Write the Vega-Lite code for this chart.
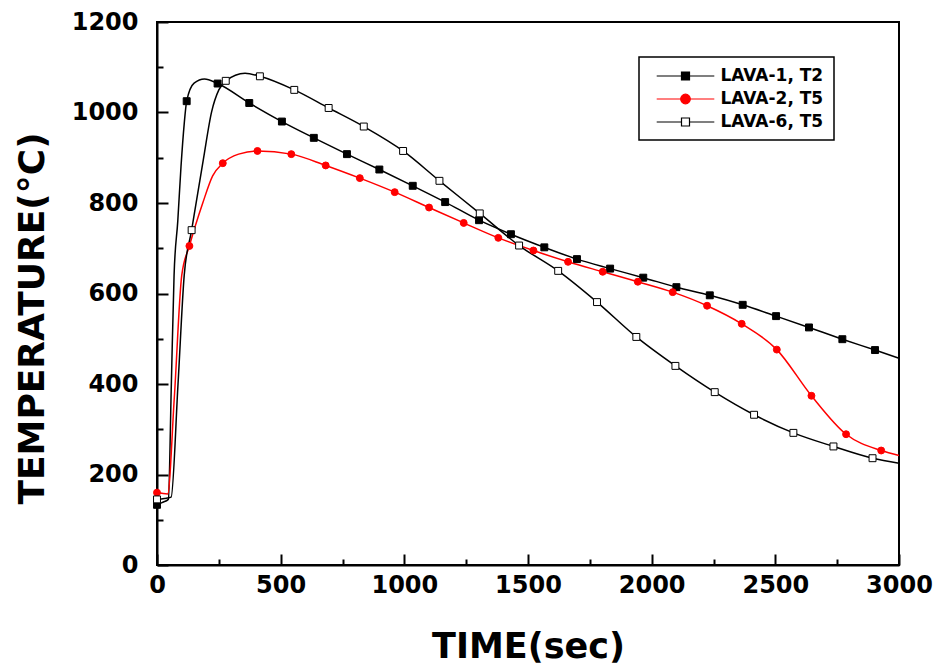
{
  "$schema": "https://vega.github.io/schema/vega-lite/v6.json",
  "width": 742,
  "height": 543,
  "autosize": {"type": "none"},
  "padding": {"left": 157, "top": 22, "right": 40, "bottom": 103},
  "background": "white",
  "config": {
    "view": {"stroke": "black", "strokeWidth": 2},
    "font": "DejaVu Sans",
    "axis": {
      "grid": false,
      "domainColor": "black",
      "domainWidth": 2,
      "tickColor": "black",
      "tickWidth": 2,
      "labelFont": "DejaVu Sans",
      "labelFontWeight": "bold",
      "labelFontSize": 24,
      "labelColor": "black",
      "labelFlush": false,
      "labelOverlap": false,
      "titleFont": "DejaVu Sans",
      "titleFontWeight": "bold",
      "titleColor": "black"
    },
    "legend": {"strokeWidth": 1.5}
  },
  "resolve": {"axis": {"x": "independent", "y": "independent"}},
  "data": {
    "values": [
      {"series": "LAVA-1, T2", "time": 0, "temp": 133, "marker": 1},
      {"series": "LAVA-1, T2", "time": 20, "temp": 138, "marker": 0},
      {"series": "LAVA-1, T2", "time": 46, "temp": 145, "marker": 0},
      {"series": "LAVA-1, T2", "time": 58, "temp": 400, "marker": 0},
      {"series": "LAVA-1, T2", "time": 69, "temp": 640, "marker": 0},
      {"series": "LAVA-1, T2", "time": 84, "temp": 760, "marker": 0},
      {"series": "LAVA-1, T2", "time": 97, "temp": 880, "marker": 0},
      {"series": "LAVA-1, T2", "time": 110, "temp": 975, "marker": 0},
      {"series": "LAVA-1, T2", "time": 120, "temp": 1025, "marker": 1},
      {"series": "LAVA-1, T2", "time": 150, "temp": 1065, "marker": 0},
      {"series": "LAVA-1, T2", "time": 192, "temp": 1074, "marker": 0},
      {"series": "LAVA-1, T2", "time": 245, "temp": 1064, "marker": 1},
      {"series": "LAVA-1, T2", "time": 373, "temp": 1021, "marker": 1},
      {"series": "LAVA-1, T2", "time": 505, "temp": 980, "marker": 1},
      {"series": "LAVA-1, T2", "time": 634, "temp": 944, "marker": 1},
      {"series": "LAVA-1, T2", "time": 768, "temp": 908, "marker": 1},
      {"series": "LAVA-1, T2", "time": 899, "temp": 874, "marker": 1},
      {"series": "LAVA-1, T2", "time": 1034, "temp": 838, "marker": 1},
      {"series": "LAVA-1, T2", "time": 1165, "temp": 802, "marker": 1},
      {"series": "LAVA-1, T2", "time": 1302, "temp": 762, "marker": 1},
      {"series": "LAVA-1, T2", "time": 1431, "temp": 731, "marker": 1},
      {"series": "LAVA-1, T2", "time": 1566, "temp": 702, "marker": 1},
      {"series": "LAVA-1, T2", "time": 1698, "temp": 676, "marker": 1},
      {"series": "LAVA-1, T2", "time": 1832, "temp": 655, "marker": 1},
      {"series": "LAVA-1, T2", "time": 1966, "temp": 635, "marker": 1},
      {"series": "LAVA-1, T2", "time": 2100, "temp": 614, "marker": 1},
      {"series": "LAVA-1, T2", "time": 2235, "temp": 596, "marker": 1},
      {"series": "LAVA-1, T2", "time": 2368, "temp": 575, "marker": 1},
      {"series": "LAVA-1, T2", "time": 2503, "temp": 550, "marker": 1},
      {"series": "LAVA-1, T2", "time": 2636, "temp": 525, "marker": 1},
      {"series": "LAVA-1, T2", "time": 2771, "temp": 499, "marker": 1},
      {"series": "LAVA-1, T2", "time": 2903, "temp": 475, "marker": 1},
      {"series": "LAVA-1, T2", "time": 3000, "temp": 457, "marker": 0},

      {"series": "LAVA-2, T5", "time": 0, "temp": 160, "marker": 1},
      {"series": "LAVA-2, T5", "time": 43, "temp": 157, "marker": 0},
      {"series": "LAVA-2, T5", "time": 70, "temp": 370, "marker": 0},
      {"series": "LAVA-2, T5", "time": 100, "temp": 640, "marker": 0},
      {"series": "LAVA-2, T5", "time": 131, "temp": 705, "marker": 1},
      {"series": "LAVA-2, T5", "time": 185, "temp": 800, "marker": 0},
      {"series": "LAVA-2, T5", "time": 225, "temp": 860, "marker": 0},
      {"series": "LAVA-2, T5", "time": 266, "temp": 888, "marker": 1},
      {"series": "LAVA-2, T5", "time": 330, "temp": 908, "marker": 0},
      {"series": "LAVA-2, T5", "time": 406, "temp": 915, "marker": 1},
      {"series": "LAVA-2, T5", "time": 543, "temp": 908, "marker": 1},
      {"series": "LAVA-2, T5", "time": 682, "temp": 883, "marker": 1},
      {"series": "LAVA-2, T5", "time": 820, "temp": 855, "marker": 1},
      {"series": "LAVA-2, T5", "time": 961, "temp": 824, "marker": 1},
      {"series": "LAVA-2, T5", "time": 1100, "temp": 790, "marker": 1},
      {"series": "LAVA-2, T5", "time": 1240, "temp": 756, "marker": 1},
      {"series": "LAVA-2, T5", "time": 1380, "temp": 723, "marker": 1},
      {"series": "LAVA-2, T5", "time": 1522, "temp": 695, "marker": 1},
      {"series": "LAVA-2, T5", "time": 1662, "temp": 670, "marker": 1},
      {"series": "LAVA-2, T5", "time": 1802, "temp": 648, "marker": 1},
      {"series": "LAVA-2, T5", "time": 1944, "temp": 626, "marker": 1},
      {"series": "LAVA-2, T5", "time": 2085, "temp": 603, "marker": 1},
      {"series": "LAVA-2, T5", "time": 2224, "temp": 573, "marker": 1},
      {"series": "LAVA-2, T5", "time": 2364, "temp": 533, "marker": 1},
      {"series": "LAVA-2, T5", "time": 2506, "temp": 476, "marker": 1},
      {"series": "LAVA-2, T5", "time": 2646, "temp": 374, "marker": 1},
      {"series": "LAVA-2, T5", "time": 2786, "temp": 289, "marker": 1},
      {"series": "LAVA-2, T5", "time": 2928, "temp": 253, "marker": 1},
      {"series": "LAVA-2, T5", "time": 3000, "temp": 242, "marker": 0},

      {"series": "LAVA-6, T5", "time": 0, "temp": 145, "marker": 1},
      {"series": "LAVA-6, T5", "time": 30, "temp": 147, "marker": 0},
      {"series": "LAVA-6, T5", "time": 57, "temp": 150, "marker": 0},
      {"series": "LAVA-6, T5", "time": 85, "temp": 400, "marker": 0},
      {"series": "LAVA-6, T5", "time": 110, "temp": 640, "marker": 0},
      {"series": "LAVA-6, T5", "time": 140, "temp": 740, "marker": 1},
      {"series": "LAVA-6, T5", "time": 187, "temp": 895, "marker": 0},
      {"series": "LAVA-6, T5", "time": 221, "temp": 1002, "marker": 0},
      {"series": "LAVA-6, T5", "time": 250, "temp": 1050, "marker": 0},
      {"series": "LAVA-6, T5", "time": 278, "temp": 1070, "marker": 1},
      {"series": "LAVA-6, T5", "time": 356, "temp": 1087, "marker": 0},
      {"series": "LAVA-6, T5", "time": 416, "temp": 1080, "marker": 1},
      {"series": "LAVA-6, T5", "time": 555, "temp": 1050, "marker": 1},
      {"series": "LAVA-6, T5", "time": 694, "temp": 1010, "marker": 1},
      {"series": "LAVA-6, T5", "time": 836, "temp": 969, "marker": 1},
      {"series": "LAVA-6, T5", "time": 995, "temp": 915, "marker": 1},
      {"series": "LAVA-6, T5", "time": 1142, "temp": 849, "marker": 1},
      {"series": "LAVA-6, T5", "time": 1305, "temp": 777, "marker": 1},
      {"series": "LAVA-6, T5", "time": 1464, "temp": 706, "marker": 1},
      {"series": "LAVA-6, T5", "time": 1622, "temp": 650, "marker": 1},
      {"series": "LAVA-6, T5", "time": 1779, "temp": 581, "marker": 1},
      {"series": "LAVA-6, T5", "time": 1938, "temp": 504, "marker": 1},
      {"series": "LAVA-6, T5", "time": 2096, "temp": 440, "marker": 1},
      {"series": "LAVA-6, T5", "time": 2255, "temp": 382, "marker": 1},
      {"series": "LAVA-6, T5", "time": 2414, "temp": 332, "marker": 1},
      {"series": "LAVA-6, T5", "time": 2573, "temp": 292, "marker": 1},
      {"series": "LAVA-6, T5", "time": 2735, "temp": 262, "marker": 1},
      {"series": "LAVA-6, T5", "time": 2893, "temp": 236, "marker": 1},
      {"series": "LAVA-6, T5", "time": 3000, "temp": 225, "marker": 0}
    ]
  },
  "layer": [
    {
      "mark": {"type": "line", "interpolate": "monotone", "strokeWidth": 1.5},
      "encoding": {
        "x": {
          "field": "time",
          "type": "quantitative",
          "scale": {"domain": [0, 3000], "nice": false},
          "axis": {
            "orient": "bottom",
            "title": "TIME(sec)",
            "titleFontSize": 35,
            "titleY": 92,
            "titleBaseline": "alphabetic",
            "format": "d",
            "values": [0, 500, 1000, 1500, 2000, 2500, 3000],
            "tickSize": -11,
            "labelPadding": 19
          }
        },
        "y": {
          "field": "temp",
          "type": "quantitative",
          "scale": {"domain": [0, 1200], "nice": false},
          "axis": {
            "orient": "left",
            "title": "TEMPERATURE(°C)",
            "titleFontSize": 36,
            "titleX": -114,
            "titleY": 296,
            "titleAngle": 270,
            "titleAlign": "center",
            "titleBaseline": "alphabetic",
            "format": "d",
            "values": [0, 200, 400, 600, 800, 1000, 1200],
            "tickSize": -11,
            "labelPadding": 30
          }
        },
        "color": {
          "field": "series",
          "type": "nominal",
          "scale": {"domain": ["LAVA-2, T5", "LAVA-1, T2", "LAVA-6, T5"], "range": ["red", "black", "black"]},
          "legend": null
        }
      }
    },
    {
      "transform": [{"filter": "datum.marker == 1"}],
      "mark": {"type": "point", "size": 48, "strokeWidth": 1, "opacity": 1},
      "encoding": {
        "x": {
          "field": "time",
          "type": "quantitative",
          "axis": {
            "orient": "bottom",
            "title": null,
            "domain": false,
            "labels": false,
            "values": [250, 750, 1250, 1750, 2250, 2750],
            "tickSize": -6
          }
        },
        "y": {
          "field": "temp",
          "type": "quantitative",
          "axis": {
            "orient": "left",
            "title": null,
            "domain": false,
            "labels": false,
            "values": [100, 300, 500, 700, 900, 1100],
            "tickSize": -6
          }
        },
        "fill": {
          "field": "series",
          "type": "nominal",
          "scale": {"domain": ["LAVA-1, T2", "LAVA-2, T5", "LAVA-6, T5"], "range": ["black", "red", "white"]},
          "legend": {
            "title": null,
            "orient": "none",
            "legendX": 482,
            "legendY": 35,
            "padding": 10,
            "strokeColor": "black",
            "fillColor": "white",
            "symbolSize": 256,
            "symbolStrokeWidth": 1.2,
            "symbolOffset": 27.5,
            "symbolType": {"expr": "datum.value === 'LAVA-2, T5' ? 'M-3.6,0H3.6M0.6,0A0.6,0.6,0,1,1,-0.6,0A0.6,0.6,0,1,1,0.6,0Z' : (datum.value === 'LAVA-6, T5' ? 'M-3.6,0H-0.5M0.5,0H3.6M-0.5,-0.5H0.5V0.5H-0.5Z' : 'M-3.6,0H3.6M-0.5,-0.5H0.5V0.5H-0.5Z')"},
            "labelOffset": 26,
            "labelFont": "DejaVu Sans",
            "labelFontWeight": "bold",
            "labelFontSize": 17,
            "labelColor": "black",
            "rowPadding": 6
          }
        },
        "stroke": {
          "field": "series",
          "type": "nominal",
          "scale": {"domain": ["LAVA-1, T2", "LAVA-2, T5", "LAVA-6, T5"], "range": ["black", "red", "black"]},
          "legend": {
            "title": null,
            "orient": "none",
            "legendX": 482,
            "legendY": 35
          }
        },
        "shape": {
          "field": "series",
          "type": "nominal",
          "scale": {"domain": ["LAVA-2, T5", "LAVA-1, T2", "LAVA-6, T5"], "range": ["circle", "square", "square"]},
          "legend": null
        }
      }
    }
  ]
}
